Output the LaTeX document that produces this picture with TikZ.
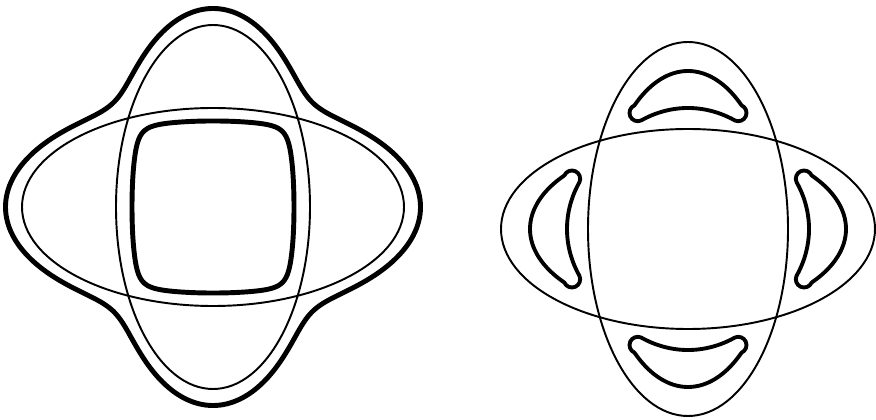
\documentclass[tikz,border=0pt]{standalone}

\begin{document}
\begin{tikzpicture}[x=2cm, y=2cm, line join=round,
  declare function={
    % radius of an ellipse (half axes \ra, \rb) in direction \th
    rell(\th,\ra,\rb) = \ra*\rb/sqrt((\rb*cos(\th))^2 + (\ra*sin(\th))^2);
    % smooth maximum / minimum of two radii
    smax(\pa,\pb,\pk) = max(\pa,\pb)*(1 + (min(\pa,\pb)/max(\pa,\pb))^\pk)^(1/\pk);
    smin(\pa,\pb,\pk) = min(\pa,\pb)*(1 + (min(\pa,\pb)/max(\pa,\pb))^\pk)^(-1/\pk);
  },
  oval/.style={line width=1.1pt},
  bound/.style={line width=2.8pt},
  lune/.style={line width=2.2pt}]
  \useasboundingbox (0,0) rectangle (8.76,4.2);

  % Left figure: two ellipses, outer and inner boundary
  \begin{scope}[shift={(2.13,2.13)}]
    \draw[oval] (0,0) ellipse[x radius=1.91, y radius=0.99];
    \draw[oval] (0,0) ellipse[x radius=0.97, y radius=1.82];
    \draw[bound] plot[domain=0:358, samples=180, smooth cycle]
      (\x:{smax(rell(\x,1.91,0.99),rell(\x,0.97,1.82),10)+0.165-0.037*sin(2*\x)^2});
    \draw[bound] plot[domain=0:358, samples=180, smooth cycle]
      (\x:{smin(rell(\x,1.91,0.99)-0.13,rell(\x,0.97,1.82)-0.16,13)});
  \end{scope}

  % Right figure: two ellipses and four crescents
  \begin{scope}[shift={(6.88,1.91)}]
    \draw[oval] (0,0) ellipse[x radius=1.87, y radius=1];
    \draw[oval] (0,0) ellipse[x radius=1, y radius=1.87];
    \pgfmathsetmacro\capr{(rell(113.4,0.86,1.58)-rell(113.4,1.06,1.21))/2}
    \foreach \ang in {0,90,180,270}
      \draw[lune, rotate=\ang]
        plot[domain=66.6:113.4, samples=40, smooth] (\x:{rell(\x,0.86,1.58)})
        arc[start angle=113.4, end angle=293.4, radius=\capr]
        -- plot[domain=113.4:66.6, samples=40, smooth] (\x:{rell(\x,1.06,1.21)})
        arc[start angle=246.6, end angle=426.6, radius=\capr] -- cycle;
  \end{scope}
\end{tikzpicture}
\end{document}
